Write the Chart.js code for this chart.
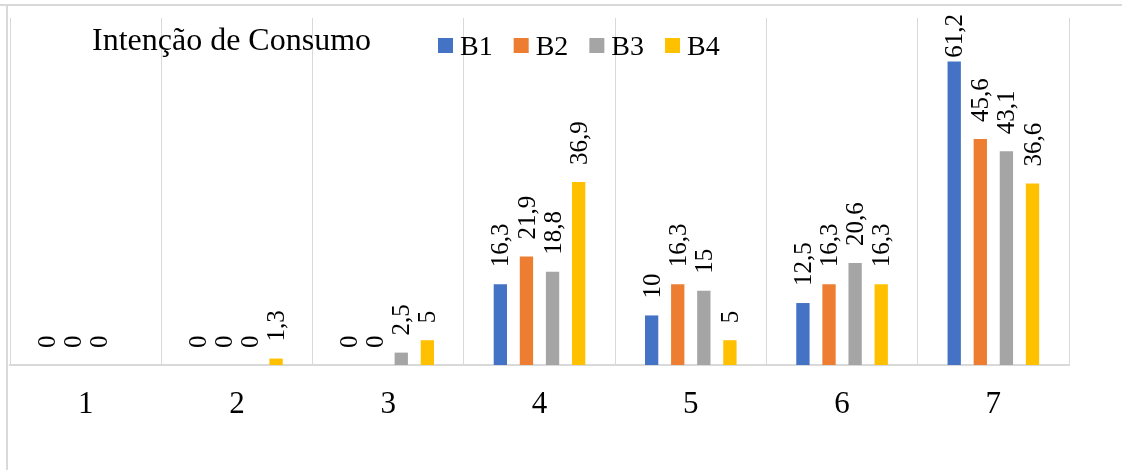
<!DOCTYPE html>
<html lang="pt">
<head>
<meta charset="utf-8">
<title>Intenção de Consumo</title>
<script src="https://cdn.jsdelivr.net/npm/chart.js@4/dist/chart.umd.min.js"></script>
<style>
  html, body { margin: 0; padding: 0; background: #fff; }
  canvas { display: block; }
</style>
</head>
<body>
<canvas id="chart" width="1122" height="470"></canvas>
<script>
// Scale points (1-7) and the share of answers per group
const categories = ['1', '2', '3', '4', '5', '6', '7'];
const seriesNames = ['B1', 'B2', 'B3', 'B4'];
const b1 = [0, 0, 0, 16.3, 10, 12.5, 61.2];
const b2 = [0, 0, 0, 21.9, 16.3, 16.3, 45.6];
const b3 = [0, 0, 2.5, 18.8, 15, 20.6, 43.1];
const b4 = [null, 1.3, 5, 36.9, 5, 16.3, 36.6];
const seriesColors = ['#4472C4', '#ED7D31', '#A5A5A5', '#FFC000'];
const chartTitle = 'Intenção de Consumo';
const yMax = 70;

const FONT = '"Liberation Serif", "Times New Roman", serif';
const GRID = '#d9d9d9';

// Outer frame of the chart object (top and left edges)
const framePlugin = {
  id: 'frame',
  beforeDraw(chart) {
    const c = chart.ctx;
    c.save();
    c.fillStyle = '#fff';
    c.fillRect(0, 0, chart.width, chart.height);
    c.strokeStyle = GRID;
    c.lineWidth = 2;
    c.beginPath();
    c.moveTo(0, 5);
    c.lineTo(chart.width, 5);
    c.moveTo(7, 5);
    c.lineTo(7, chart.height);
    c.stroke();
    c.restore();
  }
};

// Rotated value labels above each bar
const valueLabels = {
  id: 'valueLabels',
  afterDatasetsDraw(chart) {
    const c = chart.ctx;
    c.save();
    c.font = '25px ' + FONT;
    c.fillStyle = '#000';
    c.textAlign = 'left';
    c.textBaseline = 'middle';
    chart.data.datasets.forEach((ds, di) => {
      const meta = chart.getDatasetMeta(di);
      meta.data.forEach((bar, i) => {
        const v = ds.data[i];
        if (v === null || v === undefined) return;
        const text = String(v).replace('.', ',');
        const w = c.measureText(text).width;
        let start = bar.y - 17;
        if (start - w < 14) start = 14 + w;
        c.save();
        c.translate(bar.x + 1.5, start);
        c.rotate(-Math.PI / 2);
        c.fillText(text, 0, 0);
        c.restore();
      });
    });
    c.restore();
  }
};

// Title and legend drawn inside the plot area
const headerPlugin = {
  id: 'header',
  afterDraw(chart) {
    const c = chart.ctx;
    c.save();
    c.fillStyle = '#000';
    c.textBaseline = 'alphabetic';
    c.textAlign = 'left';
    c.font = '32px ' + FONT;
    c.fillText(chartTitle, 92, 50);

    c.font = '28px ' + FONT;
    let x = 438;
    chart.data.datasets.forEach(ds => {
      c.fillStyle = ds.backgroundColor;
      c.fillRect(x, 38, 15, 15);
      c.fillStyle = '#000';
      c.fillText(ds.label, x + 22, 55);
      x += 22 + c.measureText(ds.label).width + 21;
    });
    c.restore();
  }
};

const seriesData = [b1, b2, b3, b4];

new Chart(document.getElementById('chart'), {
  type: 'bar',
  data: {
    labels: categories,
    datasets: seriesNames.map((name, i) => ({
      label: name,
      data: seriesData[i],
      backgroundColor: seriesColors[i],
      borderWidth: 0,
      categoryPercentage: 0.69,
      barPercentage: 0.51
    }))
  },
  options: {
    responsive: false,
    animation: false,
    devicePixelRatio: 1,
    layout: { padding: { left: 10, right: 53, top: 18, bottom: 0 } },
    plugins: {
      legend: { display: false },
      title: { display: false },
      tooltip: { enabled: false }
    },
    scales: {
      x: {
        offset: true,
        grid: {
          offset: true,
          color: GRID,
          lineWidth: ctx => (ctx.index === categories.length ? 2 : 1),
          drawTicks: false
        },
        border: { display: true, color: GRID, width: 2 },
        ticks: {
          color: '#000',
          font: { family: FONT, size: 31 },
          padding: 21
        },
        afterFit(scale) { scale.height = 105; }
      },
      y: {
        display: false,
        min: 0,
        max: yMax
      }
    }
  },
  plugins: [framePlugin, valueLabels, headerPlugin]
});
</script>
</body>
</html>
